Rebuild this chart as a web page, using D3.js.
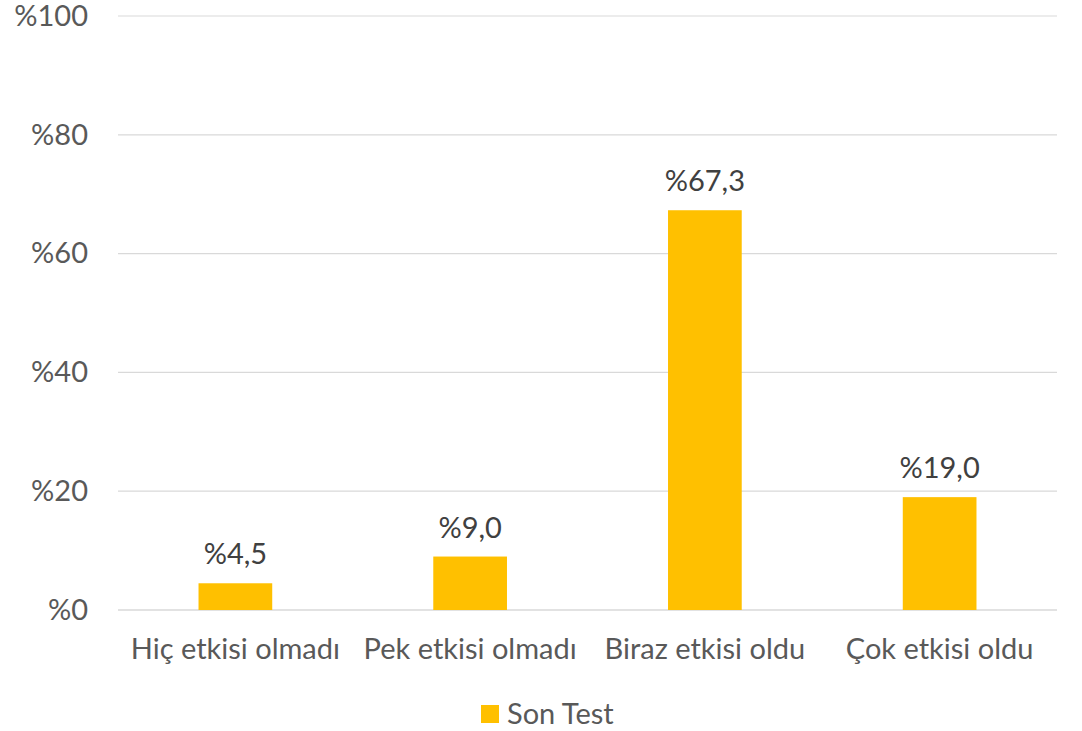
<!DOCTYPE html>
<html>
<head>
<meta charset="utf-8">
<script src="https://cdn.jsdelivr.net/npm/d3@7"></script>
<style>
  html, body { margin: 0; padding: 0; background: #fff; }
  svg { display: block; font-family: Lato, "Open Sans", sans-serif; }
</style>
</head>
<body>
<svg id="chart" width="1082" height="731"></svg>
<script>
const categories = ["Hiç etkisi olmadı", "Pek etkisi olmadı", "Biraz etkisi oldu", "Çok etkisi oldu"];
const values = [4.5, 9.0, 67.3, 19.0];
const valueLabels = ["%4,5", "%9,0", "%67,3", "%19,0"];
const yTicks = [0, 20, 40, 60, 80, 100];
const seriesName = "Son Test";

const svg = d3.select("#chart");
const W = 1082, H = 731;
const margin = { left: 118, right: W - 1057, top: 16, bottom: H - 610 };
const fontSize = 29;

const x = d3.scaleBand().domain(categories).range([margin.left, W - margin.right]).paddingInner(0.686).paddingOuter(0.343);
const y = d3.scaleLinear().domain([0, 100]).range([H - margin.bottom, margin.top]);

// horizontal gridlines
svg.append("g")
  .selectAll("line").data(yTicks).join("line")
  .attr("x1", margin.left).attr("x2", W - margin.right)
  .attr("y1", d => y(d)).attr("y2", d => y(d))
  .attr("stroke", "#d9d9d9")
  .attr("stroke-width", d => d === 0 ? 1.5 : 1.2);

// y axis labels
const yAxis = d3.axisLeft(y).tickValues(yTicks).tickFormat(d => "%" + d).tickSize(0).tickPadding(30);
svg.append("g").attr("transform", `translate(${margin.left},0)`).call(yAxis)
  .call(g => g.select(".domain").remove())
  .selectAll("text").attr("font-size", fontSize).attr("fill", "#595959").attr("font-family", "Lato, sans-serif");

// bars
svg.append("g").selectAll("rect").data(values).join("rect")
  .attr("x", (d, i) => x(categories[i]))
  .attr("width", x.bandwidth())
  .attr("y", d => y(d))
  .attr("height", d => y(0) - y(d))
  .attr("fill", "#ffc000");

// value labels above bars
svg.append("g").selectAll("text").data(values).join("text")
  .attr("x", (d, i) => x(categories[i]) + x.bandwidth() / 2)
  .attr("y", d => y(d) - 19)
  .attr("text-anchor", "middle")
  .attr("font-size", fontSize)
  .attr("fill", "#404040")
  .text((d, i) => valueLabels[i]);

// category labels
const xAxis = d3.axisBottom(x).tickSize(0);
svg.append("g").attr("transform", `translate(0,${y(0)})`).call(xAxis)
  .call(g => g.select(".domain").remove())
  .selectAll("text").attr("y", 49).attr("dy", 0)
  .attr("font-size", fontSize).attr("fill", "#595959").attr("font-family", "Lato, sans-serif");

// legend
const lg = svg.append("g").attr("transform", "translate(481,705)");
lg.append("rect").attr("width", 18).attr("height", 18).attr("fill", "#ffc000");
lg.append("text").attr("x", 26).attr("y", 19).attr("font-size", fontSize).attr("fill", "#595959").text(seriesName);
</script>
</body>
</html>
